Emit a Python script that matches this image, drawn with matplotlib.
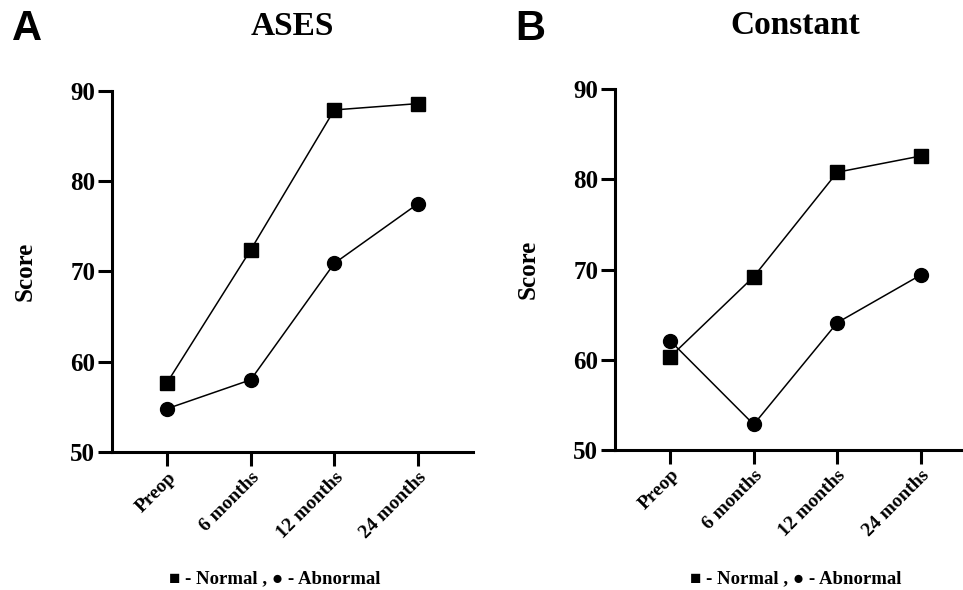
import matplotlib.pyplot as plt

# data
timepoints = ['Preop', '6 months', '12 months', '24 months']
ases_normal = [57.7, 72.4, 87.9, 88.6]
ases_abnormal = [54.8, 58.0, 70.9, 77.5]
constant_normal = [60.3, 69.2, 80.8, 82.6]
constant_abnormal = [62.1, 52.8, 64.1, 69.4]
yticks = [50, 60, 70, 80, 90]

serif = ['Liberation Serif', 'DejaVu Serif']
plt.rcParams['font.family'] = serif
plt.rcParams['font.weight'] = 'bold'

fig = plt.figure(figsize=(9.63, 5.9), dpi=100)

def panel(rect, normal, abnormal, title, letter, letter_x, legend_x):
    ax = fig.add_axes(rect)
    x = list(range(len(timepoints)))
    ax.plot(x, normal, color='black', lw=1.1, marker='s', ms=10, clip_on=False)
    ax.plot(x, abnormal, color='black', lw=1.1, marker='o', ms=10, clip_on=False)
    ax.set_xlim(-0.66, 3.66)
    ax.set_ylim(50, 90)
    ax.set_yticks(yticks)
    ax.set_xticks(x)
    ax.set_xticklabels(timepoints, rotation=45, ha='right', rotation_mode='anchor',
                       fontsize=14, fontweight='bold')
    for lab in ax.get_yticklabels():
        lab.set_fontsize(18)
        lab.set_fontweight('bold')
    for s in ['top', 'right']:
        ax.spines[s].set_visible(False)
    for s in ['left', 'bottom']:
        ax.spines[s].set_linewidth(2.2)
    ax.tick_params(width=2.2, length=10, pad=2)
    ax.set_ylabel('Score', fontsize=18, fontweight='bold', labelpad=24)
    ax.set_title(title, fontsize=24, fontweight='bold', pad=40)
    fig.text(letter_x, 0.985, letter, fontsize=30, fontweight='bold',
             family='Liberation Sans', ha='left', va='top')
    fig.text(legend_x, 0.004, '\u25a0 - Normal , \u25cf - Abnormal', fontsize=13.5,
             fontweight='bold', ha='center', va='bottom')
    return ax

panel([0.1163, 0.2339, 0.3749, 0.6119], ases_normal, ases_abnormal, 'ASES', 'A', 0.012, 0.285)
panel([0.6386, 0.2378, 0.3749, 0.6108], constant_normal, constant_abnormal, 'Constant', 'B', 0.535, 0.826)

fig.savefig('out.png', dpi=100)
